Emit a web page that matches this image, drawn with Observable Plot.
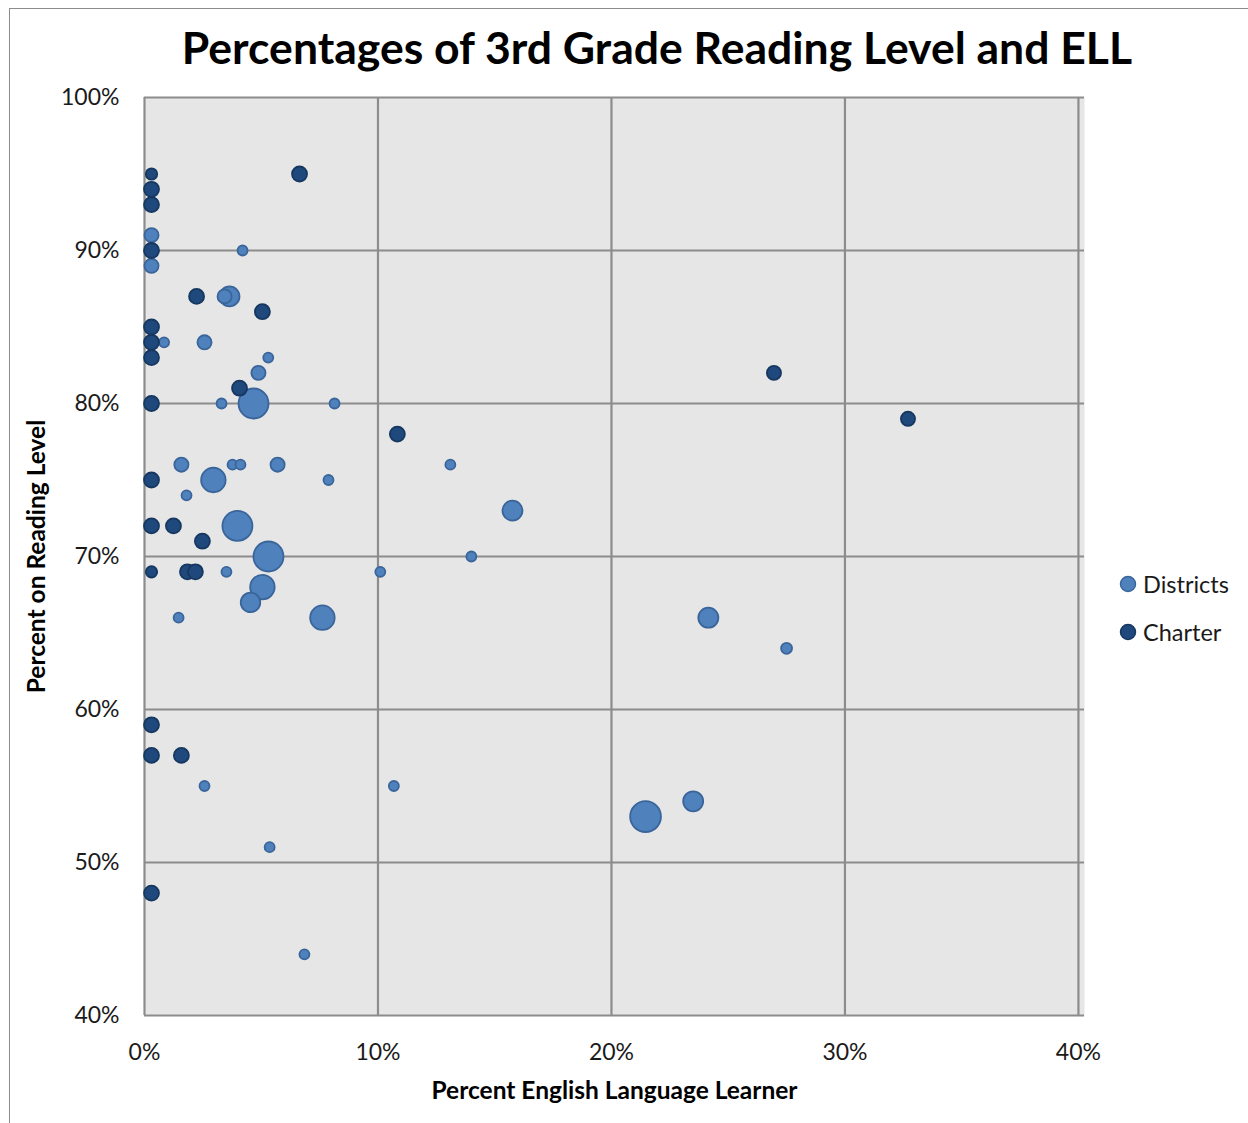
<!DOCTYPE html>
<html><head><meta charset="utf-8">
<script src="https://cdn.jsdelivr.net/npm/d3@7"></script>
<script src="https://cdn.jsdelivr.net/npm/@observablehq/plot@0.6"></script>
<style>
body{margin:0;background:#fff;font-family:Lato,"Open Sans",sans-serif;}
#wrap{position:relative;width:1248px;height:1123px;overflow:hidden;}
#border{position:absolute;left:9px;top:8px;width:1400px;height:1300px;border-top:1.5px solid #8c8c8c;border-left:1.5px solid #8c8c8c;pointer-events:none;}
#title{position:relative;width:1248px;height:80px;box-sizing:border-box;padding-left:66px;padding-top:25px;text-align:center;font-weight:bold;font-size:44.5px;line-height:1;color:#000;}
#legend{position:absolute;left:1118px;top:560px;font-size:23.5px;color:#1a1a1a;}
.item{display:flex;align-items:center;height:48px;}
.item svg{margin-right:5px;}
</style>
</head><body>
<div id="wrap">
<div id="border"></div>
<div id="title">Percentages of 3rd Grade Reading Level and ELL</div>
<div id="chart"></div>
<div id="legend"></div>
</div>
<script>
// Districts: percent ELL, percent on reading level, relative bubble size
const districtX = [0.3, 0.3, 4.2, 3.43, 3.64, 0.84, 2.57, 5.3, 4.88, 3.3, 4.67, 8.14, 1.58, 3.77, 4.11, 5.7, 13.1, 2.95, 7.88, 1.8, 15.76, 3.98, 5.31, 14.0, 3.51, 10.1, 5.05, 4.54, 1.46, 7.62, 24.15, 27.5, 2.57, 10.68, 21.46, 23.5, 5.36, 6.85];
const districtY = [91, 89, 90, 87, 87, 84, 84, 83, 82, 80, 80, 80, 76, 76, 76, 76, 76, 75, 75, 74, 73, 72, 70, 70, 69, 69, 68, 67, 66, 66, 66, 64, 55, 55, 53, 54, 51, 44];
const districtSize = [2, 2, 1, 2, 4, 1, 2, 1, 2, 1, 9, 1, 2, 1, 1, 2, 1, 6, 1, 1, 4, 9, 9, 1, 1, 1, 6, 3.8, 1, 6, 4, 1.2, 1, 1, 9.5, 4, 1, 1];
// Charter schools
const charterX = [0.3, 0.3, 0.3, 0.3, 6.64, 2.23, 5.05, 0.3, 0.3, 0.3, 4.07, 0.3, 10.83, 0.3, 0.3, 1.24, 2.48, 0.3, 1.84, 2.18, 0.3, 0.3, 1.58, 0.3, 26.96, 32.7];
const charterY = [95, 94, 93, 90, 95, 87, 86, 85, 84, 83, 81, 80, 78, 75, 72, 72, 71, 69, 69, 69, 59, 57, 57, 48, 82, 79];
const charterSize = [1.3, 2.25, 2.25, 2.25, 2.25, 2.25, 2.25, 2.25, 2.25, 2.25, 2.25, 2.25, 2.25, 2.25, 2.25, 2.25, 2.25, 1.3, 2.25, 2.25, 2.25, 2.25, 2.25, 2.25, 2, 2];

const seriesNames = ["Districts", "Charter"];
const seriesFill = ["#4F81BD", "#1F497D"];
const seriesStroke = ["#3A659A", "#16375F"];
const xTicks = [0, 0.1, 0.2, 0.3, 0.4];
const yTicks = [0.4, 0.5, 0.6, 0.7, 0.8, 0.9, 1.0];
const xTitle = "Percent English Language Learner";
const yTitle = "Percent on Reading Level";

const districts = districtX.map((x, i) => ({x: x / 100, y: districtY[i] / 100, size: districtSize[i]}));
const charters = charterX.map((x, i) => ({x: x / 100, y: charterY[i] / 100, size: charterSize[i]}));

const chart = Plot.plot({
  width: 1248, height: 1043,
  marginLeft: 144, marginRight: 164, marginTop: 17, marginBottom: 108,
  style: {fontFamily: "Lato, 'Open Sans', sans-serif", fontSize: "23px", color: "#1a1a1a", background: "transparent"},
  x: {domain: [0, 0.4026], label: null},
  y: {domain: [0.4, 1], label: null},
  r: {type: "sqrt", domain: [0, 9], range: [0, 15]},
  marks: [
    Plot.frame({fill: "#E6E6E6", stroke: null}),
    Plot.gridX(xTicks, {stroke: "#8c8c8c", strokeOpacity: 1, strokeWidth: 2.2}),
    Plot.gridY(yTicks, {stroke: "#8c8c8c", strokeOpacity: 1, strokeWidth: 2.2}),
    Plot.axisX(xTicks, {tickSize: 0, tickPadding: 28, tickFormat: d3.format(".0%"), label: null}),
    Plot.axisY(yTicks, {tickSize: 0, tickPadding: 25, tickFormat: d3.format(".0%"), label: null}),
    Plot.dot(districts, {x: "x", y: "y", r: "size", fill: seriesFill[0], stroke: seriesStroke[0], strokeWidth: 1.8}),
    Plot.dot(charters, {x: "x", y: "y", r: "size", fill: seriesFill[1], stroke: seriesStroke[1], strokeWidth: 1.8}),
    Plot.text([xTitle], {frameAnchor: "bottom", dy: 83, fontWeight: "bold", fontSize: 24.5, fill: "#000"}),
    Plot.text([yTitle], {frameAnchor: "left", textAnchor: "middle", rotate: -90, dx: -107, fontWeight: "bold", fontSize: 24.5, fill: "#000"})
  ]
});
document.getElementById("chart").appendChild(chart);

const legend = document.getElementById("legend");
seriesNames.forEach((name, i) => {
  const item = document.createElement("div");
  item.className = "item";
  item.innerHTML = `<svg width="20" height="20"><circle cx="10" cy="10" r="7.5" fill="${seriesFill[i]}" stroke="${seriesStroke[i]}" stroke-width="1.5"/></svg><span>${name}</span>`;
  legend.appendChild(item);
});
</script>
</body></html>
